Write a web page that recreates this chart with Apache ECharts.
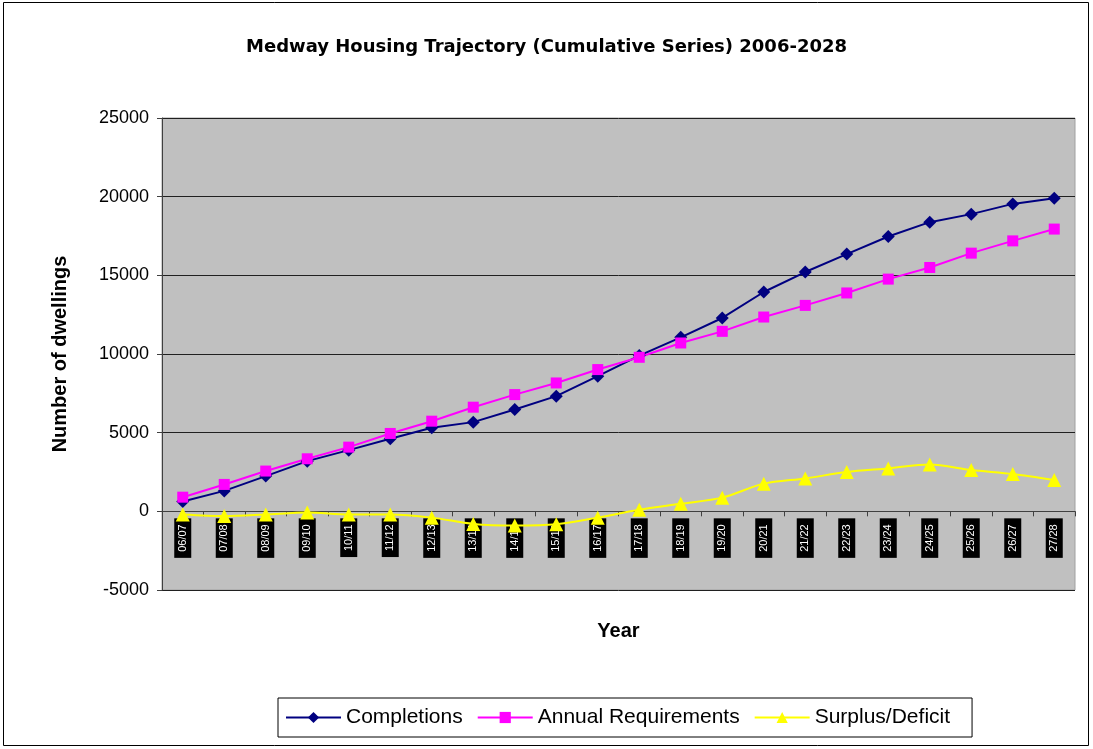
<!DOCTYPE html>
<html>
<head>
<meta charset="utf-8">
<script src="https://cdn.jsdelivr.net/npm/echarts@6/dist/echarts.min.js"></script>
<style>
  html, body { margin: 0; padding: 0; background: #fff; }
  #chart { width: 1093px; height: 749px; }
</style>
</head>
<body>
<div id="chart"></div>
<script>
const years = [
  "06/07", "07/08", "08/09", "09/10", "10/11", "11/12", "12/13", "13/14", "14/15", "15/16", "16/17",
  "17/18", "18/19", "19/20", "20/21", "21/22", "22/23", "23/24", "24/25", "25/26", "26/27", "27/28"
];
const completions = [
  620, 1300, 2240, 3190, 3890, 4610, 5310, 5670, 6470, 7320, 8590,
  9900, 11060, 12290, 13940, 15210, 16350, 17470, 18380, 18890, 19540, 19900
];
const annualRequirements = [
  900, 1710, 2560, 3340, 4080, 4950, 5730, 6620, 7420, 8160, 9010,
  9790, 10700, 11440, 12350, 13090, 13880, 14760, 15500, 16410, 17190, 17940
];
const surplusDeficit = [
  -200, -300, -200, -80, -200, -200, -400, -800, -900, -820, -400,
  100, 480, 870, 1760, 2090, 2500, 2730, 2980, 2620, 2370, 1990
];
const yTicks = { min: -5000, max: 25000, step: 5000 };

const chart = echarts.init(document.getElementById("chart"));
const font = "Liberation Sans, Arial, sans-serif";

const gridTop = 118, gridHeight = 472;
// the category axis sits on the zero line, like Excel
const zeroOffset = -gridHeight * (0 - yTicks.min) / (yTicks.max - yTicks.min);

chart.setOption({
  backgroundColor: "#fff",
  animation: false,
  textStyle: { fontFamily: font },
  graphic: [{
    type: "rect",
    shape: { x: 3.5, y: 2.5, width: 1085, height: 743 },
    style: { fill: "none", stroke: "#000", lineWidth: 1 },
    silent: true
  }],
  title: {
    text: "Medway Housing Trajectory (Cumulative Series) 2006-2028",
    left: "center",
    top: 33,
    textStyle: { fontFamily: "DejaVu Sans, sans-serif", fontSize: 18, fontWeight: "bold", color: "#000" }
  },
  legend: {
    left: 278,
    top: 698,
    padding: [9, 22, 9, 7],
    itemGap: 14,
    itemWidth: 55,
    itemHeight: 14,
    borderColor: "#000",
    borderWidth: 1,
    textStyle: { fontFamily: font, fontSize: 21, color: "#000" }
  },
  grid: {
    left: 162, top: gridTop, width: 913, height: gridHeight,
    show: true,
    backgroundColor: "#c0c0c0",
    borderColor: "#a0a0a0",
    borderWidth: 1
  },
  xAxis: {
    type: "category",
    data: years,
    boundaryGap: true,
    offset: zeroOffset,
    name: "Year",
    nameLocation: "middle",
    nameGap: 110,
    nameTextStyle: { fontFamily: font, fontSize: 20, fontWeight: "bold", color: "#000" },
    axisLine: { onZero: false, lineStyle: { color: "#404040", width: 1 } },
    axisTick: { show: true, length: 5, lineStyle: { color: "#404040" } },
    axisLabel: {
      rotate: 90,
      margin: 7,
      interval: 0,
      color: "#fff",
      backgroundColor: "#000",
      fontFamily: font,
      fontSize: 11,
      padding: [3, 6, 3, 6]
    },
    splitLine: { show: false }
  },
  yAxis: {
    type: "value",
    min: yTicks.min,
    max: yTicks.max,
    interval: yTicks.step,
    name: "Number of dwellings",
    nameLocation: "middle",
    nameGap: 92,
    nameTextStyle: { fontFamily: font, fontSize: 20, fontWeight: "bold", color: "#000" },
    axisLine: { show: true, lineStyle: { color: "#404040", width: 1 } },
    axisTick: { show: true, length: 5, lineStyle: { color: "#404040" } },
    axisLabel: { color: "#000", fontFamily: font, fontSize: 18, margin: 13, formatter: v => String(v) },
    splitLine: { lineStyle: { color: "#202020", width: 1 } }
  },
  series: [
    {
      name: "Completions",
      type: "line",
      data: completions,
      symbol: "diamond",
      symbolSize: 13,
      lineStyle: { color: "#000080", width: 2 },
      itemStyle: { color: "#000080" }
    },
    {
      name: "Annual Requirements",
      type: "line",
      data: annualRequirements,
      symbol: "rect",
      symbolSize: 11,
      lineStyle: { color: "#ff00ff", width: 2 },
      itemStyle: { color: "#ff00ff" }
    },
    {
      name: "Surplus/Deficit",
      type: "line",
      data: surplusDeficit,
      smooth: 0.3,
      symbol: "triangle",
      symbolSize: 14,
      lineStyle: { color: "#ffff00", width: 2 },
      itemStyle: { color: "#ffff00" }
    }
  ]
});
</script>
</body>
</html>
